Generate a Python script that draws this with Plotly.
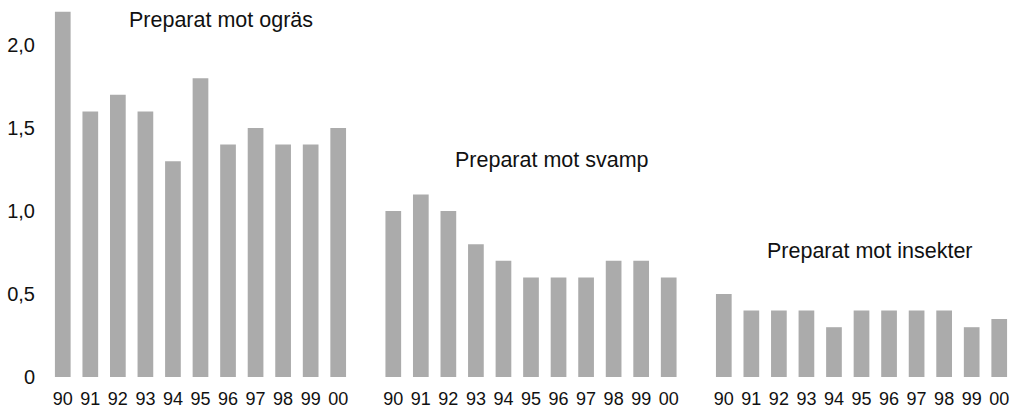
import plotly.graph_objects as go

years = ["90", "91", "92", "93", "94", "95", "96", "97", "98", "99", "00"]
ogras = [2.2, 1.6, 1.7, 1.6, 1.3, 1.8, 1.4, 1.5, 1.4, 1.4, 1.5]
svamp = [1.0, 1.1, 1.0, 0.8, 0.7, 0.6, 0.6, 0.6, 0.7, 0.7, 0.6]
insekter = [0.5, 0.4, 0.4, 0.4, 0.3, 0.4, 0.4, 0.4, 0.4, 0.3, 0.35]
group_titles = ["Preparat mot ogräs", "Preparat mot svamp", "Preparat mot insekter"]
y_ticks = [0, 0.5, 1.0, 1.5, 2.0]
y_ticktext = ["0", "0,5", "1,0", "1,5", "2,0"]

groups = [ogras, svamp, insekter]
gap = 12
fig = go.Figure()
xs_all, labels_all = [], []
for g, vals in enumerate(groups):
    xs = [g * gap + i for i in range(len(years))]
    xs_all += xs
    labels_all += years
    fig.add_trace(go.Bar(x=xs, y=vals, marker=dict(color="#ababab", line=dict(width=0)),
                         width=0.57, showlegend=False, hoverinfo="skip"))

title_pos = [(5.75, 2.15), (17.75, 1.31), (29.3, 0.76)]
for t, (ax, ay) in zip(group_titles, title_pos):
    fig.add_annotation(x=ax, y=ay, text=t, showarrow=False, xanchor="center", yanchor="middle",
                       font=dict(size=21.5, color="#111111"))

fig.update_layout(
    width=1017, height=411,
    margin=dict(l=49, r=4, t=3, b=34),
    paper_bgcolor="white", plot_bgcolor="white",
    font=dict(family="Liberation Sans, Arial, sans-serif", color="#111111"),
    bargap=0.4,
)
fig.update_xaxes(range=[-0.5, 34.5], tickmode="array", tickvals=xs_all, ticktext=labels_all,
                 showgrid=False, zeroline=False, showline=False, ticks="",
                 tickfont=dict(size=18), ticklabelstandoff=9)
fig.update_yaxes(range=[0, 2.253], tickmode="array", tickvals=y_ticks, ticktext=y_ticktext,
                 showgrid=False, zeroline=False, showline=False, ticks="",
                 tickfont=dict(size=20), ticklabelstandoff=13)

fig.write_html("out.html", config={"displayModeBar": False},
               post_script="document.body.style.margin='0';document.body.style.overflow='hidden';")
